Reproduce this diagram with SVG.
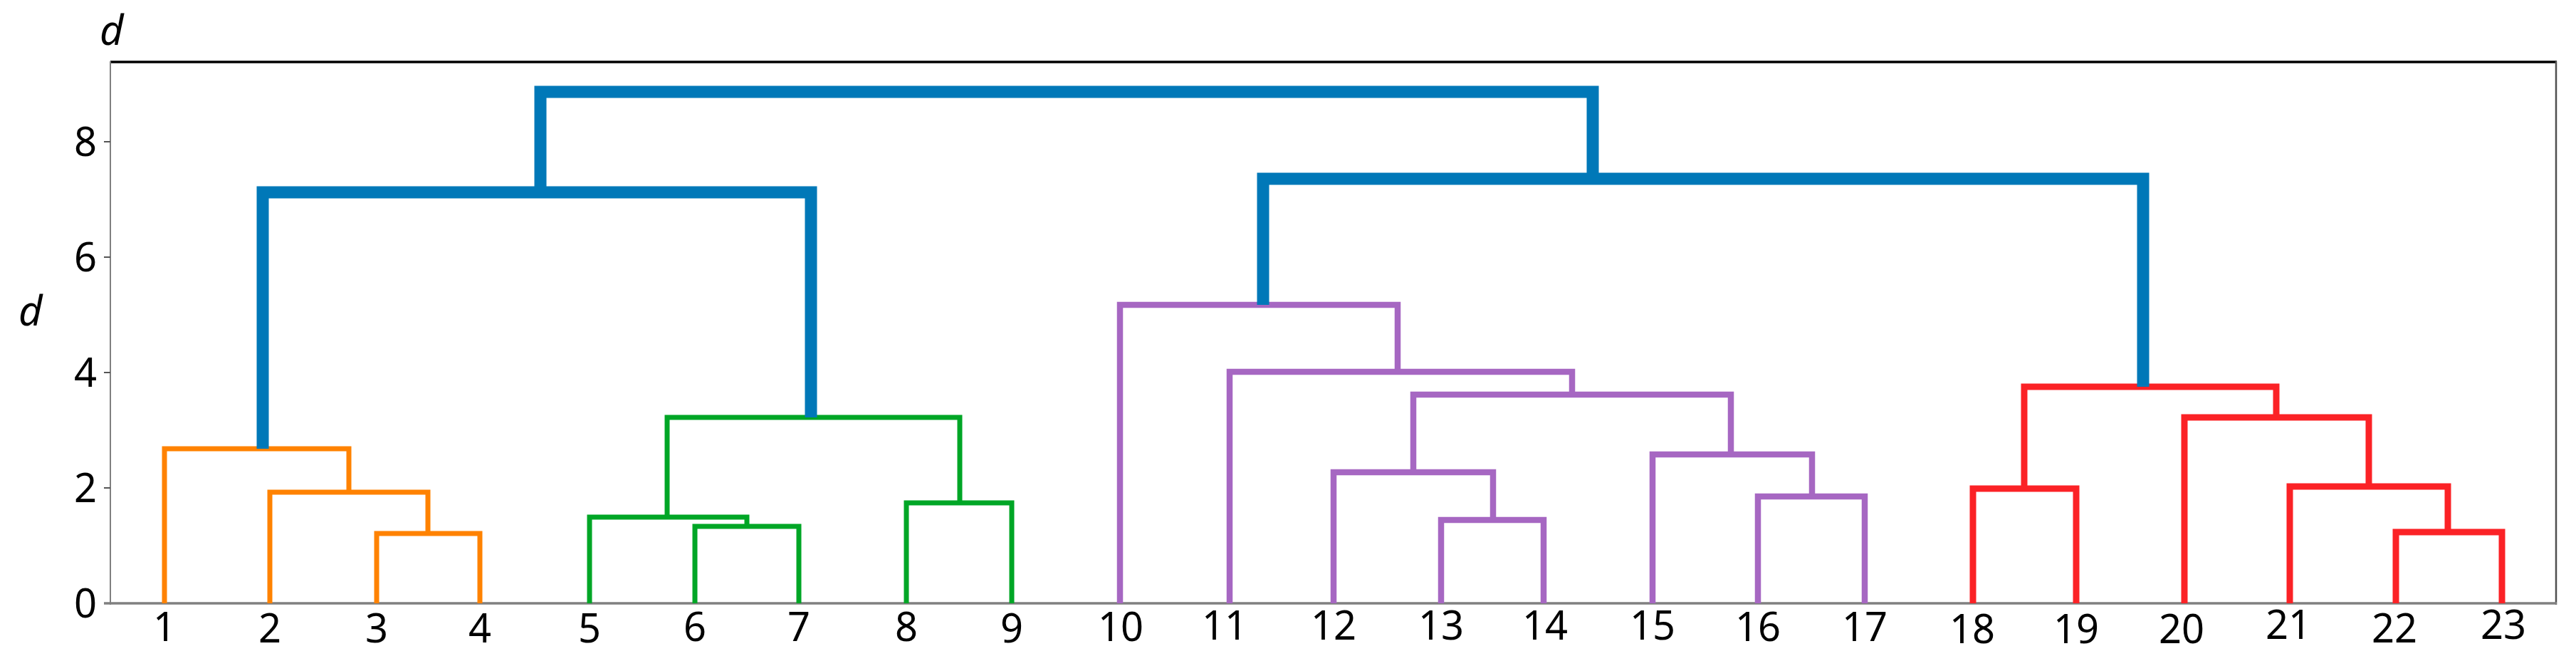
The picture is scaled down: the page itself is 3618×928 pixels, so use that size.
<svg xmlns="http://www.w3.org/2000/svg" width="3618" height="928" viewBox="0 0 3618 928">
<style>
  .lbl { font-family: "Noto Sans", "Open Sans", "DejaVu Sans", sans-serif; font-size: 56px; fill: #000; }
  .leaf { text-anchor: middle; }
  .tick { text-anchor: end; }
  .axt { font-family: "Noto Sans", "Open Sans", "DejaVu Sans", sans-serif; font-size: 58px; font-style: italic; fill: #000; }
  .lk { fill: none; stroke-linejoin: miter; stroke-linecap: butt; }
  .blue { stroke: #0078b8; stroke-width: 17; }
  .orange { stroke: #ff8200; stroke-width: 7; }
  .green { stroke: #00a626; stroke-width: 7; }
  .purple { stroke: #a667c2; stroke-width: 8.5; }
  .red { stroke: #fb2226; stroke-width: 9; }
</style>
<rect x="0" y="0" width="3618" height="928" fill="#ffffff"/>

<g id="axes">
  <line x1="155" y1="87" x2="3591" y2="87" stroke="#000" stroke-width="3.5"/>
  <line x1="155" y1="86" x2="155" y2="849" stroke="#808080" stroke-width="2"/>
  <line x1="3590" y1="86" x2="3590" y2="849" stroke="#505050" stroke-width="2.5"/>
  <line x1="146" y1="847" x2="3591" y2="847" stroke="#808080" stroke-width="3.5"/>
  <g stroke="#555" stroke-width="2">
    <line x1="146" y1="685" x2="155" y2="685"/>
    <line x1="146" y1="523" x2="155" y2="523"/>
    <line x1="146" y1="361" x2="155" y2="361"/>
    <line x1="146" y1="199" x2="155" y2="199"/>
  </g>
  <g class="lbl tick">
    <text x="136" y="867">0</text>
    <text x="136" y="705">2</text>
    <text x="136" y="543">4</text>
    <text x="136" y="381">6</text>
    <text x="136" y="219">8</text>
  </g>
  <text class="axt" x="140" y="63">d</text>
  <text class="axt" x="26" y="457">d</text>
</g>

<g id="connectors">
  <!-- orange cluster -->
  <path class="lk orange" d="M529 847 V749 H674 V847"/>
  <path class="lk orange" d="M379 847 V691 H601 V749"/>
  <path class="lk orange" d="M231 847 V630 H490 V691"/>
  <!-- green cluster -->
  <path class="lk green" d="M976 847 V739 H1122 V847"/>
  <path class="lk green" d="M828 847 V726 H1049 V739"/>
  <path class="lk green" d="M1273 847 V706 H1421 V847"/>
  <path class="lk green" d="M937 726 V586 H1348 V706"/>
  <!-- purple cluster -->
  <path class="lk purple" d="M2024 847 V730 H2168 V847"/>
  <path class="lk purple" d="M1873 847 V663 H2097 V730"/>
  <path class="lk purple" d="M2469 847 V697 H2619 V847"/>
  <path class="lk purple" d="M2321 847 V638 H2545 V697"/>
  <path class="lk purple" d="M1985 663 V554 H2431 V638"/>
  <path class="lk purple" d="M1727 847 V522 H2208 V554"/>
  <path class="lk purple" d="M1573 847 V428 H1963 V522"/>
  <!-- red cluster -->
  <path class="lk red" d="M2771 847 V686 H2916 V847"/>
  <path class="lk red" d="M3365 847 V747 H3514 V847"/>
  <path class="lk red" d="M3216 847 V683 H3438 V747"/>
  <path class="lk red" d="M3068 847 V586 H3327 V683"/>
  <path class="lk red" d="M2843 686 V543 H3197 V586"/>
  <!-- blue upper links -->
  <path class="lk blue" d="M369 630 V270 H1139 V586"/>
  <path class="lk blue" d="M1774 428 V251 H3010 V543"/>
  <path class="lk blue" d="M759 270 V129 H2237 V251"/>
</g>

<g class="lbl leaf">
  <g id="leaf1"><text x="231" y="900">1</text></g>
  <g id="leaf2"><text x="379" y="902">2</text></g>
  <g id="leaf3"><text x="529" y="902">3</text></g>
  <g id="leaf4"><text x="674" y="902">4</text></g>
  <g id="leaf5"><text x="828" y="902">5</text></g>
  <g id="leaf6"><text x="976" y="900">6</text></g>
  <g id="leaf7"><text x="1122" y="900">7</text></g>
  <g id="leaf8"><text x="1273" y="900">8</text></g>
  <g id="leaf9"><text x="1421" y="902">9</text></g>
  <g id="leaf10"><text x="1574" y="900">10</text></g>
  <g id="leaf11"><text x="1720" y="898">11</text></g>
  <g id="leaf12"><text x="1873" y="898">12</text></g>
  <g id="leaf13"><text x="2024" y="898">13</text></g>
  <g id="leaf14"><text x="2170" y="898">14</text></g>
  <g id="leaf15"><text x="2321" y="898">15</text></g>
  <g id="leaf16"><text x="2469" y="900">16</text></g>
  <g id="leaf17"><text x="2619" y="900">17</text></g>
  <g id="leaf18"><text x="2770" y="903">18</text></g>
  <g id="leaf19"><text x="2916" y="903">19</text></g>
  <g id="leaf20"><text x="3064" y="903">20</text></g>
  <g id="leaf21"><text x="3214" y="897">21</text></g>
  <g id="leaf22"><text x="3363" y="902">22</text></g>
  <g id="leaf23"><text x="3516" y="897">23</text></g>
</g>
</svg>
